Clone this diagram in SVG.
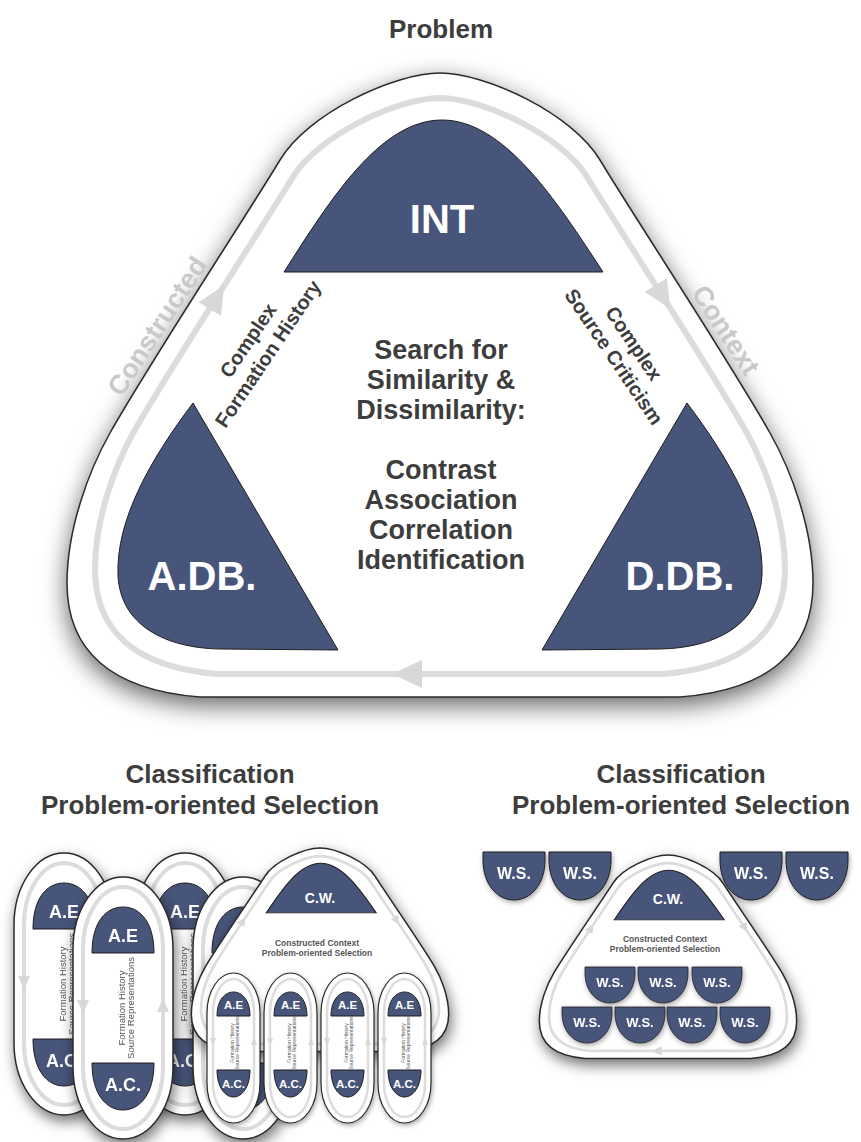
<svg xmlns="http://www.w3.org/2000/svg" xmlns:xlink="http://www.w3.org/1999/xlink" width="861" height="1142" viewBox="0 0 861 1142">
<defs>
<style>
.t{font-family:"Liberation Sans",Arial,Helvetica,sans-serif;font-weight:bold;text-anchor:middle}
.dark{fill:#3d3d3d}
.w{fill:#ffffff}
.lg{fill:#c9c9c9}
.navy{fill:#47557a;stroke:#1f1f1f;stroke-width:1}
.sm{font-family:"Liberation Sans",Arial,Helvetica,sans-serif;text-anchor:middle;fill:#555555}
.arr{fill:#d8d8d8}
</style>
<filter id="sh" x="-15%" y="-15%" width="130%" height="135%">
<feGaussianBlur in="SourceAlpha" stdDeviation="12"/>
<feOffset dy="8" result="o"/>
<feFlood flood-color="#000" flood-opacity="0.6"/>
<feComposite in2="o" operator="in"/>
<feMerge><feMergeNode/><feMergeNode in="SourceGraphic"/></feMerge>
</filter>
<filter id="sh2" x="-30%" y="-20%" width="160%" height="145%">
<feGaussianBlur in="SourceAlpha" stdDeviation="7"/>
<feOffset dx="2" dy="6" result="o"/>
<feFlood flood-color="#000" flood-opacity="0.55"/>
<feComposite in2="o" operator="in"/>
<feMerge><feMergeNode/><feMergeNode in="SourceGraphic"/></feMerge>
</filter>
<filter id="sh3" x="-20%" y="-20%" width="140%" height="150%">
<feGaussianBlur in="SourceAlpha" stdDeviation="2.5"/>
<feOffset dx="1" dy="2" result="o"/>
<feFlood flood-color="#000" flood-opacity="0.35"/>
<feComposite in2="o" operator="in"/>
<feMerge><feMergeNode/><feMergeNode in="SourceGraphic"/></feMerge>
</filter>
<path id="triOut" d="M440,73 C485,73 572,113 600,160 C628,207 730,362 770,433 C792,472 813,530 813,583 C813,650 770,690 680,697 L200,697 C110,690 67,650 67,583 C67,530 88,472 110,433 C150,362 252,207 280,160 C308,113 395,73 440,73 Z"/>
<path id="triRing" d="M440,98 C481.6,98 562.1,135 588,178.3 C613.9,221.7 708.3,364.8 745.3,430.3 C765.6,466.3 785,519.8 785,568.8 C785,630.6 745.3,667.5 662,674 L218,674 C134.7,667.5 95,630.6 95,568.8 C95,519.8 114.4,466.3 134.7,430.3 C171.8,364.8 266.1,221.7 292,178.3 C317.9,135 398.4,98 440,98 Z"/>
<path id="triCap" d="M284,272 C330,200 380,120 442,120 C504,120 556,200 603,272 Z"/>
<g id="triArrows">
<polygon points="14,0 -14,-13 -14,13" transform="translate(217,297) rotate(-59)"/>
<polygon points="14,0 -14,-13 -14,13" transform="translate(663,297) rotate(59)"/>
<polygon points="392,674 422,660 422,688"/>
</g>
<g id="pillBody">
<rect width="100" height="262" rx="50" ry="72" fill="#fff" stroke="#2a2a2a" stroke-width="1.5"/>
<rect x="10" y="10" width="80" height="242" rx="40" ry="62" fill="none" stroke="#dcdcdc" stroke-width="4"/>
<polygon class="arr" points="10,137 4,123 16,123"/>
<polygon class="arr" points="90,121 84,135 96,135"/>
<path class="navy" d="M19,76 C19,45 33,30 50,30 C67,30 81,45 81,76 Z"/>
<path class="navy" d="M19,186 L81,186 C81,217 67,233 50,233 C33,233 19,217 19,186 Z"/>
</g>
<g id="pillSmall">
<rect width="53" height="150" rx="26.5" ry="40" fill="#fff" stroke="#2a2a2a" stroke-width="1.2"/>
<rect x="6" y="6" width="41" height="138" rx="20.5" ry="34" fill="none" stroke="#dcdcdc" stroke-width="2.5"/>
<polygon class="arr" points="6,73 3,65 9,65"/>
<polygon class="arr" points="47,64 44,72 50,72"/>
<path class="navy" d="M10,43 C10,27 18,19 26.5,19 C35,19 43,27 43,43 Z"/>
<path class="navy" d="M10,97 L43,97 C43,114 35,124 26.5,124 C18,124 10,114 10,97 Z"/>
</g>
<path id="ws" d="M0,0 H62 V8 C62,32 48,48 31,48 C14,48 0,32 0,8 Z"/>
</defs>

<rect width="861" height="1142" fill="#ffffff"/>

<text class="t dark" x="441" y="38" font-size="26">Problem</text>

<!-- main frame -->
<g id="main-frame">
<use href="#triOut" fill="#fff" stroke="#2a2a2a" stroke-width="1.5" filter="url(#sh)"/>
<use href="#triRing" fill="none" stroke="#dcdcdc" stroke-width="6"/>
<use href="#triArrows" fill="#d8d8d8"/>
<text class="t lg" font-size="27" transform="translate(157,326) rotate(-57)" y="9.5">Constructed</text>
<text class="t lg" font-size="27" transform="translate(726,330) rotate(57)" y="9.5">Context</text>
</g>

<g id="node-int">
<use href="#triCap" class="navy"/>
<text class="t w" x="442" y="233" font-size="40">INT</text>
</g>

<g id="node-adb">
<path class="navy" d="M193,403 L338,650 L220,649 C165,648 120,625 118,575 C116,520 150,460 193,403 Z"/>
<text class="t w" x="202" y="590" font-size="40">A.DB.</text>
</g>

<g id="node-ddb">
<path class="navy" d="M687,403 L542,650 L660,649 C715,648 760,625 762,575 C764,520 730,460 687,403 Z"/>
<text class="t w" x="680" y="590" font-size="40">D.DB.</text>
</g>

<g id="label-formation" class="t dark" font-size="20" transform="translate(258,347) rotate(-56)">
<text x="0" y="-5">Complex</text>
<text x="0" y="19">Formation History</text>
</g>
<g id="label-source" class="t dark" font-size="20" transform="translate(624,350) rotate(56)">
<text x="0" y="-5">Complex</text>
<text x="0" y="19">Source Criticism</text>
</g>

<g id="center-text" class="t dark" font-size="27">
<text x="441" y="359">Search for</text>
<text x="441" y="389">Similarity &amp;</text>
<text x="441" y="419">Dissimilarity:</text>
<text x="441" y="479">Contrast</text>
<text x="441" y="509">Association</text>
<text x="441" y="539">Correlation</text>
<text x="441" y="569">Identification</text>
</g>

<!-- titles -->
<g id="title-left" class="t dark" font-size="26">
<text x="210" y="783">Classification</text>
<text x="210" y="814">Problem-oriented Selection</text>
</g>
<g id="title-right" class="t dark" font-size="26">
<text x="681" y="783">Classification</text>
<text x="681" y="814">Problem-oriented Selection</text>
</g>

<!-- left cluster -->
<g id="pill-1" filter="url(#sh2)" transform="translate(14,853)">
<use href="#pillBody"/>
<text class="t w" x="50" y="65" font-size="18">A.E</text>
<text class="t w" x="50" y="214" font-size="18">A.C.</text>
<g class="sm" font-size="9.5" transform="translate(50,131) rotate(-90)"><text y="1.5">Formation History</text><text y="10.5">Source Representations</text></g>
</g>
<g id="pill-3" filter="url(#sh2)" transform="translate(135,853)">
<use href="#pillBody"/>
<text class="t w" x="50" y="65" font-size="18">A.E</text>
<text class="t w" x="50" y="214" font-size="18">A.C.</text>
<g class="sm" font-size="9.5" transform="translate(50,131) rotate(-90)"><text y="1.5">Formation History</text><text y="10.5">Source Representations</text></g>
</g>
<g id="pill-2" filter="url(#sh2)" transform="translate(73,877)">
<use href="#pillBody"/>
<text class="t w" x="50" y="65" font-size="18">A.E</text>
<text class="t w" x="50" y="214" font-size="18">A.C.</text>
<g class="sm" font-size="9.5" transform="translate(50,131) rotate(-90)"><text y="1.5">Formation History</text><text y="10.5">Source Representations</text></g>
</g>
<g id="pill-4" filter="url(#sh2)" transform="translate(193,877)">
<use href="#pillBody"/>
</g>

<g id="context-left">
<g filter="url(#sh2)"><use href="#triOut" fill="#fff" stroke="#2a2a2a" stroke-width="4.5" transform="translate(320,848) scale(0.345,0.326) translate(-440,-73)"/></g>
<g transform="translate(320,848) scale(0.345,0.326) translate(-440,-73)">
<use href="#triRing" fill="none" stroke="#dcdcdc" stroke-width="8"/>
<use href="#triArrows" fill="#d8d8d8"/>
<use href="#triCap" fill="#47557a" stroke="#1f1f1f" stroke-width="3"/>
</g>
<text class="t w" x="320" y="903" font-size="14">C.W.</text>
<text class="t" fill="#555" x="317" y="946" font-size="8.5">Constructed Context</text>
<text class="t" fill="#555" x="317" y="956" font-size="8.5">Problem-oriented Selection</text>
</g>

<g id="spill-a" transform="translate(207,973)">
<g filter="url(#sh3)"><use href="#pillSmall"/></g>
<text class="t w" x="26.5" y="36" font-size="11.5">A.E</text>
<text class="t w" x="26.5" y="115" font-size="11.5">A.C.</text>
<g class="sm" font-size="5" transform="translate(26.5,70) rotate(-90)"><text y="0">Formation History</text><text y="5.5">Source Representations</text></g>
</g>
<g id="spill-b" transform="translate(264,973)">
<g filter="url(#sh3)"><use href="#pillSmall"/></g>
<text class="t w" x="26.5" y="36" font-size="11.5">A.E</text>
<text class="t w" x="26.5" y="115" font-size="11.5">A.C.</text>
<g class="sm" font-size="5" transform="translate(26.5,70) rotate(-90)"><text y="0">Formation History</text><text y="5.5">Source Representations</text></g>
</g>
<g id="spill-c" transform="translate(321,973)">
<g filter="url(#sh3)"><use href="#pillSmall"/></g>
<text class="t w" x="26.5" y="36" font-size="11.5">A.E</text>
<text class="t w" x="26.5" y="115" font-size="11.5">A.C.</text>
<g class="sm" font-size="5" transform="translate(26.5,70) rotate(-90)"><text y="0">Formation History</text><text y="5.5">Source Representations</text></g>
</g>
<g id="spill-d" transform="translate(378,973)">
<g filter="url(#sh3)"><use href="#pillSmall"/></g>
<text class="t w" x="26.5" y="36" font-size="11.5">A.E</text>
<text class="t w" x="26.5" y="115" font-size="11.5">A.C.</text>
<g class="sm" font-size="5" transform="translate(26.5,70) rotate(-90)"><text y="0">Formation History</text><text y="5.5">Source Representations</text></g>
</g>

<!-- right cluster -->
<g id="context-right">
<g filter="url(#sh2)"><use href="#triOut" fill="#fff" stroke="#2a2a2a" stroke-width="4.5" transform="translate(668,855) scale(0.345,0.326) translate(-440,-73)"/></g>
<g transform="translate(668,855) scale(0.345,0.326) translate(-440,-73)">
<use href="#triRing" fill="none" stroke="#dcdcdc" stroke-width="8"/>
<use href="#triArrows" fill="#d8d8d8"/>
<use href="#triCap" fill="#47557a" stroke="#1f1f1f" stroke-width="3"/>
</g>
<text class="t w" x="668" y="904" font-size="14">C.W.</text>
<text class="t" fill="#555" x="665" y="942" font-size="8.5">Constructed Context</text>
<text class="t" fill="#555" x="665" y="952" font-size="8.5">Problem-oriented Selection</text>
</g>

<g id="ws-out-1" filter="url(#sh3)"><use href="#ws" class="navy" transform="translate(483,852)"/><text class="t w" x="514" y="879" font-size="16">W.S.</text></g>
<g id="ws-out-2" filter="url(#sh3)"><use href="#ws" class="navy" transform="translate(549,852)"/><text class="t w" x="580" y="879" font-size="16">W.S.</text></g>
<g id="ws-out-3" filter="url(#sh3)"><use href="#ws" class="navy" transform="translate(720,852)"/><text class="t w" x="751" y="879" font-size="16">W.S.</text></g>
<g id="ws-out-4" filter="url(#sh3)"><use href="#ws" class="navy" transform="translate(786,852)"/><text class="t w" x="817" y="879" font-size="16">W.S.</text></g>

<g id="ws-in-1" filter="url(#sh3)"><use href="#ws" class="navy" transform="translate(585,967) scale(0.806,0.75)"/><text class="t w" x="610" y="987" font-size="13">W.S.</text></g>
<g id="ws-in-2" filter="url(#sh3)"><use href="#ws" class="navy" transform="translate(638,967) scale(0.806,0.75)"/><text class="t w" x="663" y="987" font-size="13">W.S.</text></g>
<g id="ws-in-3" filter="url(#sh3)"><use href="#ws" class="navy" transform="translate(692,967) scale(0.806,0.75)"/><text class="t w" x="717" y="987" font-size="13">W.S.</text></g>
<g id="ws-in-4" filter="url(#sh3)"><use href="#ws" class="navy" transform="translate(562,1007) scale(0.806,0.75)"/><text class="t w" x="587" y="1027" font-size="13">W.S.</text></g>
<g id="ws-in-5" filter="url(#sh3)"><use href="#ws" class="navy" transform="translate(615,1007) scale(0.806,0.75)"/><text class="t w" x="640" y="1027" font-size="13">W.S.</text></g>
<g id="ws-in-6" filter="url(#sh3)"><use href="#ws" class="navy" transform="translate(667,1007) scale(0.806,0.75)"/><text class="t w" x="692" y="1027" font-size="13">W.S.</text></g>
<g id="ws-in-7" filter="url(#sh3)"><use href="#ws" class="navy" transform="translate(720,1007) scale(0.806,0.75)"/><text class="t w" x="745" y="1027" font-size="13">W.S.</text></g>
</svg>
